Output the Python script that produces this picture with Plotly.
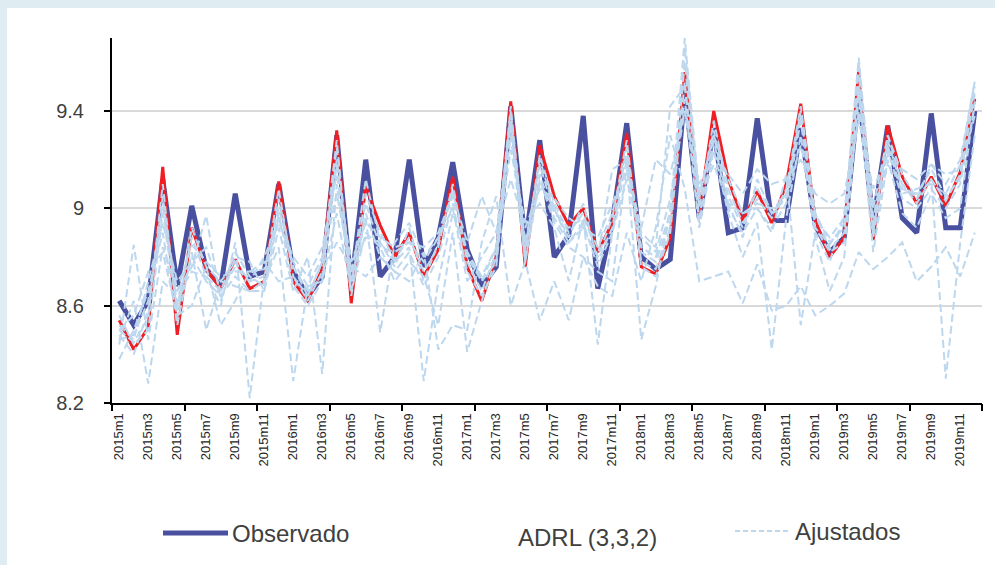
import plotly.graph_objects as go

years = [2015, 2016, 2017, 2018, 2019]
months = [f"{y}m{m}" for y in years for m in range(1, 13)]

observado = [8.62, 8.52, 8.62, 9.12, 8.68, 9.01, 8.75, 8.68, 9.06, 8.72,
             8.74, 9.10, 8.74, 8.64, 8.72, 9.30, 8.68, 9.20, 8.72, 8.80,
             9.20, 8.76, 8.88, 9.19, 8.83, 8.68, 8.76, 9.42, 8.86, 9.28,
             8.80, 8.89, 9.38, 8.67, 8.94, 9.35, 8.80, 8.75, 8.79, 9.48,
             8.96, 9.33, 8.90, 8.92, 9.37, 8.95, 8.95, 9.33, 8.93, 8.82,
             8.88, 9.48, 8.94, 9.34, 8.96, 8.90, 9.39, 8.92, 8.92, 9.40]

adrl = [8.54, 8.42, 8.51, 9.17, 8.48, 8.92, 8.75, 8.67, 8.79, 8.67,
        8.70, 9.11, 8.70, 8.62, 8.75, 9.32, 8.61, 9.09, 8.93, 8.80,
        8.90, 8.72, 8.83, 9.13, 8.76, 8.62, 8.80, 9.44, 8.76, 9.26,
        9.05, 8.93, 9.00, 8.82, 8.94, 9.31, 8.76, 8.73, 8.88, 9.56,
        8.98, 9.40, 9.12, 8.95, 9.07, 8.94, 9.10, 9.43, 8.95, 8.80,
        8.88, 9.57, 8.87, 9.34, 9.13, 9.02, 9.13, 9.01, 9.15, 9.45]

ajustados = {
    "c1": [8.50, 8.45, 8.55, 9.10, 8.55, 8.92, 8.76, 8.70, 8.78, 8.70,
           8.72, 9.08, 8.72, 8.64, 8.78, 9.28, 8.66, 9.06, 8.90, 8.79,
           8.88, 8.74, 8.84, 9.10, 8.78, 8.66, 8.82, 9.42, 8.80, 9.22,
           9.02, 8.90, 8.98, 8.80, 8.96, 9.28, 8.78, 8.75, 8.92, 9.60,
           9.00, 9.36, 9.08, 8.94, 9.04, 8.96, 9.08, 9.42, 8.98, 8.83,
           8.90, 9.55, 8.90, 9.30, 9.10, 9.04, 9.12, 9.03, 9.14, 9.47],
    "c2": [8.48, 8.40, 8.58, 9.05, 8.60, 8.88, 8.72, 8.66, 8.82, 8.72,
           8.68, 9.04, 8.76, 8.66, 8.72, 9.25, 8.70, 9.12, 8.86, 8.76,
           8.92, 8.70, 8.86, 9.08, 8.80, 8.70, 8.78, 9.40, 8.84, 9.20,
           9.00, 8.88, 9.02, 8.78, 8.92, 9.25, 8.82, 8.78, 8.95, 9.66,
           9.04, 9.32, 9.05, 8.92, 9.08, 8.98, 9.06, 9.40, 8.92, 8.85,
           8.94, 9.60, 8.92, 9.28, 9.08, 9.06, 9.16, 9.05, 9.12, 9.50],
    "c3": [8.46, 8.48, 8.62, 9.00, 8.66, 8.85, 8.78, 8.72, 8.74, 8.74,
           8.75, 9.00, 8.78, 8.68, 8.80, 9.20, 8.74, 9.02, 8.84, 8.82,
           8.86, 8.78, 8.88, 9.05, 8.82, 8.72, 8.84, 9.38, 8.86, 9.18,
           8.98, 8.92, 8.96, 8.84, 8.98, 9.22, 8.84, 8.80, 8.98, 9.70,
           9.06, 9.30, 9.02, 8.98, 9.02, 9.00, 9.04, 9.38, 8.96, 8.88,
           8.96, 9.62, 8.96, 9.26, 9.06, 9.08, 9.10, 9.06, 9.18, 9.52],
    "c4": [8.56, 8.44, 8.50, 8.98, 8.58, 8.80, 8.70, 8.64, 8.72, 8.66,
           8.66, 8.98, 8.68, 8.60, 8.70, 9.18, 8.64, 8.98, 8.80, 8.74,
           8.82, 8.68, 8.80, 9.02, 8.74, 8.64, 8.76, 9.36, 8.78, 9.14,
           8.96, 8.86, 8.94, 8.76, 8.90, 9.20, 8.76, 8.72, 8.90, 9.52,
           8.94, 9.28, 9.00, 8.90, 9.00, 8.92, 9.02, 9.36, 8.92, 8.82,
           8.86, 9.50, 8.88, 9.24, 9.04, 9.00, 9.08, 9.00, 9.10, 9.42],
    "w1": [8.46, 8.62, 8.28, 8.70, 8.64, 8.74, 8.72, 8.60, 8.86, 8.22,
           8.72, 8.96, 8.76, 8.64, 8.78, 9.06, 8.74, 8.88, 8.86, 8.78,
           8.84, 8.29, 8.70, 8.98, 8.82, 8.70, 8.84, 9.24, 8.94, 9.02,
           8.92, 8.70, 8.96, 8.44, 8.90, 9.12, 8.88, 8.82, 9.04, 9.40,
           9.04, 9.18, 9.02, 8.88, 9.12, 8.98, 9.04, 9.26, 8.98, 8.86,
           8.92, 9.40, 8.94, 9.18, 9.10, 9.02, 9.12, 8.30, 8.86, 9.30],
    "w2": [8.38, 8.50, 8.66, 8.90, 8.52, 8.82, 8.50, 8.70, 8.68, 8.66,
           8.70, 8.84, 8.29, 8.68, 8.70, 8.98, 8.66, 8.90, 8.84, 8.70,
           8.78, 8.72, 8.52, 8.90, 8.41, 8.62, 8.80, 9.30, 8.78, 9.12,
           8.94, 8.84, 8.80, 8.74, 8.70, 9.18, 8.46, 8.68, 9.00, 9.45,
           8.92, 9.24, 8.98, 8.80, 8.94, 8.42, 8.96, 9.30, 8.88, 8.66,
           8.80, 9.46, 8.82, 9.20, 8.98, 8.92, 9.06, 8.96, 9.00, 9.44],
    "w3": [8.44, 8.85, 8.46, 8.84, 8.66, 8.76, 8.97, 8.62, 8.80, 8.78,
           8.66, 8.92, 8.66, 8.80, 8.32, 9.10, 8.70, 8.96, 8.49, 8.86,
           8.94, 8.80, 8.88, 9.00, 8.70, 8.80, 8.90, 9.34, 8.84, 9.10,
           9.00, 8.86, 8.92, 8.80, 9.16, 9.20, 8.90, 8.84, 9.42, 9.50,
           8.96, 9.30, 9.12, 8.98, 9.00, 8.90, 9.14, 8.52, 8.90, 8.78,
           8.98, 9.50, 9.00, 9.30, 9.14, 9.04, 9.18, 9.10, 9.20, 9.52],
    "w4": [8.50, 8.56, 8.74, 8.82, 8.56, 8.60, 8.76, 8.52, 8.62, 8.74,
           8.78, 8.70, 8.72, 8.62, 8.74, 8.86, 8.76, 8.72, 8.80, 8.74,
           8.70, 8.82, 8.42, 8.52, 8.50, 8.86, 9.05, 8.60, 8.78, 8.54,
           8.70, 8.54, 8.80, 8.68, 8.64, 8.90, 8.70, 8.92, 9.30, 9.08,
           8.70, 8.72, 8.74, 8.61, 8.77, 8.58, 8.60, 8.68, 8.56, 8.60,
           8.65, 8.82, 8.75, 8.80, 8.86, 8.70, 8.76, 8.84, 8.72, 8.90],
    "w5": [8.52, 8.46, 8.70, 8.94, 8.70, 8.78, 8.84, 8.66, 8.76, 8.70,
           8.80, 8.94, 8.80, 8.72, 8.84, 9.14, 8.78, 8.94, 8.88, 8.84,
           8.86, 8.84, 8.90, 9.06, 8.86, 9.05, 8.90, 9.12, 8.92, 9.08,
           9.04, 8.96, 8.92, 8.88, 9.02, 9.16, 8.92, 9.20, 9.14, 9.40,
           9.10, 9.22, 9.14, 9.06, 9.16, 9.10, 9.12, 9.20, 9.06, 9.02,
           9.06, 9.36, 9.08, 9.22, 9.16, 9.12, 9.18, 9.14, 9.16, 9.38],
}

y_ticks = [8.2, 8.6, 9.0, 9.4]
y_ticktext = ["8.2", "8.6", "9", "9.4"]

C_OBS = "#4a50a0"
C_ADRL = "#f01e23"
C_AJ = "#bcd7ee"
FONT = "Liberation Sans, Arial, sans-serif"

fig = go.Figure()

fig.add_trace(go.Scatter(x=months, y=observado, mode="lines", name="Observado",
                         line=dict(color=C_OBS, width=5), showlegend=False))
fig.add_trace(go.Scatter(x=months, y=adrl, mode="lines", name="ADRL (3,3,2)",
                         line=dict(color=C_ADRL, width=3), showlegend=False))
for k, vals in ajustados.items():
    fig.add_trace(go.Scatter(x=months, y=vals, mode="lines", name="Ajustados",
                             line=dict(color=C_AJ, width=2, dash="8px,4px"),
                             showlegend=False))

# invisible trace on the overlay axis used for the boundary tick marks
fig.add_trace(go.Scatter(x=[-0.5, 59.5], y=[8.2, 8.2], xaxis="x2", mode="lines",
                         line=dict(width=0), hoverinfo="skip", showlegend=False))

L, R, T, B = 112, 13, 38, 162
W, H = 995, 565
pw, ph = W - L - R, H - T - B

def px(x):
    return (x - L) / pw

def py(y):
    return (H - B - y) / ph

shapes = [
    dict(type="rect", xref="paper", yref="paper", x0=px(7), x1=px(1000),
         y0=py(570), y1=py(8), fillcolor="white", line=dict(width=0), layer="below"),
    dict(type="line", xref="paper", yref="paper", x0=px(163), x1=px(228),
         y0=py(533), y1=py(533), line=dict(color=C_OBS, width=5)),
    dict(type="line", xref="paper", yref="paper", x0=px(735), x1=px(790),
         y0=py(531), y1=py(531), line=dict(color=C_AJ, width=2, dash="5px,3px")),
]

annotations = [
    dict(text="Observado", xref="paper", yref="paper", x=px(230), y=py(533),
         xanchor="left", yanchor="middle", showarrow=False,
         font=dict(family=FONT, size=24, color="#404040")),
    dict(text="ADRL (3,3,2)", xref="paper", yref="paper", x=px(516), y=py(537),
         xanchor="left", yanchor="middle", showarrow=False,
         font=dict(family=FONT, size=24, color="#404040")),
    dict(text="Ajustados", xref="paper", yref="paper", x=px(793), y=py(531),
         xanchor="left", yanchor="middle", showarrow=False,
         font=dict(family=FONT, size=24, color="#404040")),
]

fig.update_layout(
    width=W, height=H,
    margin=dict(l=L, r=R, t=T, b=B),
    paper_bgcolor="#dfecf1",
    plot_bgcolor="rgba(0,0,0,0)",
    shapes=shapes,
    annotations=annotations,
    showlegend=False,
    xaxis=dict(
        type="category", range=[-0.5, 59.5],
        tickmode="array", tickvals=months[::2], ticktext=months[::2],
        tickangle=-90, ticks="", showgrid=False, zeroline=False,
        showline=True, linecolor="black", linewidth=2,
        tickfont=dict(family=FONT, size=13, color="#262626"),
        ticklabelstandoff=3,
    ),
    xaxis2=dict(
        overlaying="x", anchor="y", side="bottom", range=[-0.5, 59.5],
        tickmode="array", tickvals=[-0.5 + 5 * k for k in range(13)],
        ticks="outside", ticklen=7, tickwidth=2, tickcolor="black",
        showticklabels=False, showgrid=False, zeroline=False, showline=False,
    ),
    yaxis=dict(
        range=[8.2, 9.7], tickmode="array", tickvals=y_ticks, ticktext=y_ticktext,
        ticks="outside", ticklen=6, tickwidth=2, tickcolor="black",
        showline=True, linecolor="black", linewidth=2,
        showgrid=True, gridcolor="#d9d9d9", gridwidth=2, zeroline=False,
        tickfont=dict(family=FONT, size=20, color="#404040"),
        ticklabelstandoff=16,
    ),
)

fig.write_html("out.html")
